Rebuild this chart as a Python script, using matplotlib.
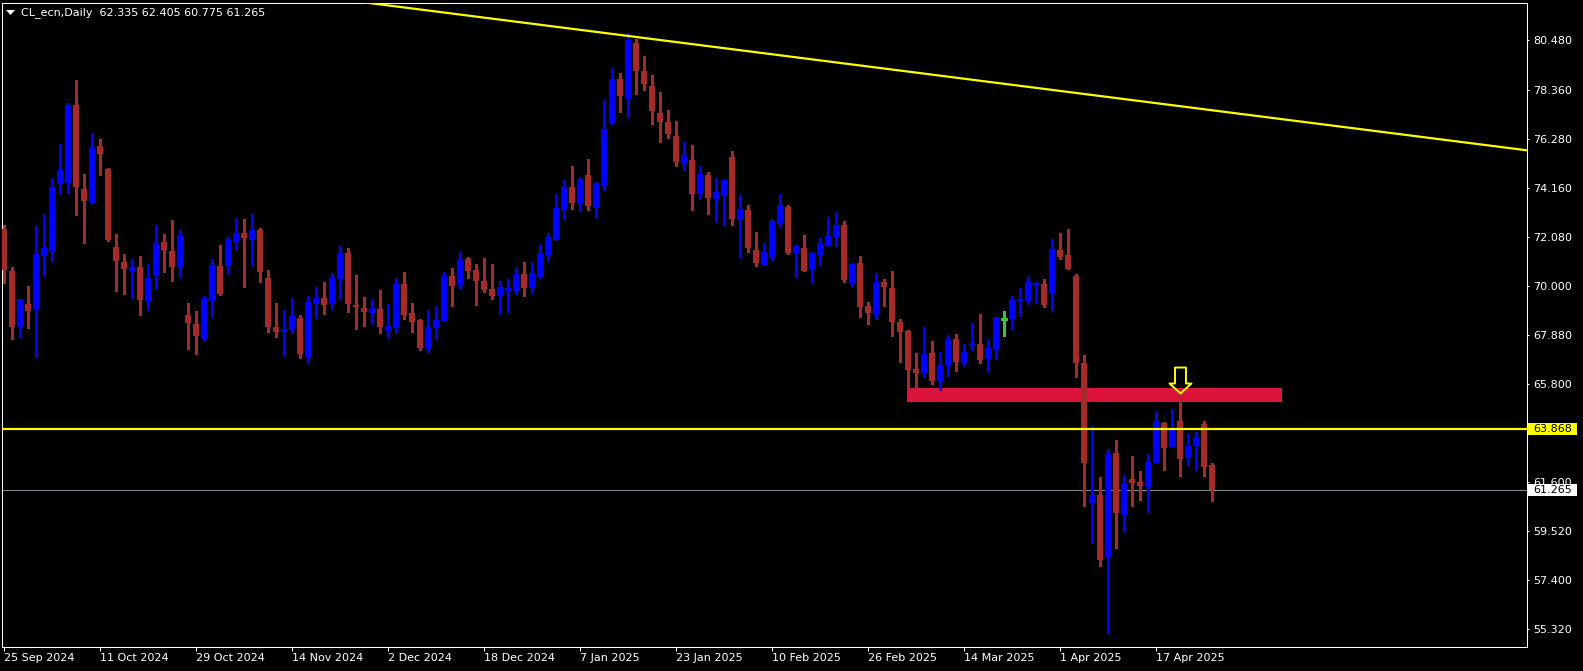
import numpy as np
import matplotlib.pyplot as plt
import matplotlib.transforms as mtransforms
from matplotlib.patches import Rectangle, Polygon
from matplotlib.path import Path

# CL_ecn daily candles, oldest first (bar 0 = 25 Sep 2024)
opens = [72.42, 70.62, 68.23, 69.21, 68.95, 71.26, 71.43, 74.34, 74.38, 77.72,
         74.13, 73.53, 75.97, 74.98, 71.65, 71.01, 70.62, 70.79, 69.30, 70.41,
         71.86, 71.48, 70.75, 68.74, 68.36, 67.71, 69.34, 70.83, 70.83, 71.86,
         72.25, 71.95, 72.37, 70.32, 68.23, 68.01, 68.10, 68.61, 66.90, 69.21,
         69.47, 69.21, 70.28, 71.39, 69.17, 69.04, 68.83, 69.00, 68.06, 68.18,
         70.07, 68.83, 68.53, 67.29, 68.18, 68.48, 70.41, 70.02, 71.13, 70.66,
         70.19, 69.85, 69.55, 69.77, 69.77, 70.49, 69.89, 70.36, 71.31, 71.95,
         73.23, 74.21, 73.49, 74.73, 73.31, 74.25, 76.95, 78.83, 77.97, 80.37,
         79.17, 78.53, 77.38, 76.99, 76.39, 75.20, 75.37, 73.91, 74.73, 73.70,
         73.83, 75.50, 72.80, 73.23, 71.52, 70.88, 71.18, 72.63, 73.36, 71.35,
         71.60, 70.66, 71.31, 71.73, 72.07, 72.59, 70.07, 70.96, 69.12, 68.74,
         70.15, 69.89, 68.44, 68.06, 66.43, 66.22, 67.12, 65.88, 66.56, 67.71,
         66.69, 67.41, 67.50, 66.86, 67.24, 68.57, 68.57, 69.34, 69.34, 70.02,
         70.07, 69.64, 71.52, 71.31, 70.41, 66.69, 60.70, 61.04, 58.35, 62.84,
         60.19, 61.73, 61.60, 61.39, 62.41, 64.12, 63.10, 64.21, 62.63, 63.14,
         64.08, 62.335]
highs = [72.59, 70.79, 69.42, 69.98, 72.55, 73.06, 74.60, 76.05, 77.80, 78.79,
         74.77, 76.52, 76.26, 75.02, 72.20, 71.35, 71.13, 71.26, 70.92, 72.59,
         72.20, 72.80, 72.37, 69.25, 68.91, 69.55, 71.13, 71.73, 72.07, 72.89,
         72.84, 73.06, 72.46, 70.66, 69.25, 68.95, 69.47, 68.74, 69.55, 69.94,
         70.15, 70.54, 71.69, 71.60, 70.45, 69.51, 69.42, 69.81, 69.21, 70.32,
         70.58, 69.25, 68.57, 68.95, 69.12, 70.58, 70.75, 71.43, 71.22, 70.92,
         71.18, 70.92, 70.19, 70.28, 70.75, 71.01, 71.01, 71.78, 72.25, 73.91,
         74.51, 75.11, 74.64, 75.41, 74.43, 77.93, 79.30, 79.09, 80.80, 80.54,
         79.81, 79.00, 78.27, 77.50, 77.03, 76.18, 76.01, 75.11, 74.85, 74.60,
         74.55, 75.75, 73.87, 73.44, 72.29, 71.82, 72.84, 73.91, 73.44, 71.73,
         72.16, 71.43, 72.03, 72.93, 73.14, 72.76, 70.96, 71.26, 69.30, 70.54,
         70.28, 70.62, 68.57, 68.10, 67.12, 68.23, 67.63, 67.16, 67.89, 67.93,
         67.50, 68.40, 68.78, 67.71, 68.65, 68.91, 69.55, 69.89, 70.41, 70.15,
         70.28, 71.99, 72.25, 72.42, 70.49, 67.03, 63.99, 61.81, 63.01, 63.40,
         61.90, 62.71, 62.07, 62.80, 64.64, 64.17, 64.72, 65.32, 63.65, 63.74,
         64.21, 62.405]
lows = [70.11, 67.71, 67.80, 68.18, 66.94, 70.41, 71.05, 73.91, 73.96, 73.02,
        71.82, 73.53, 74.73, 71.90, 69.77, 69.64, 69.47, 68.74, 68.95, 69.85,
        70.58, 70.19, 70.36, 67.29, 67.07, 67.63, 68.65, 69.60, 70.49, 71.52,
        69.94, 70.83, 70.15, 68.01, 67.80, 66.99, 67.97, 66.90, 66.69, 68.61,
        68.78, 69.00, 69.42, 68.87, 68.14, 68.27, 68.36, 67.97, 67.76, 67.97,
        68.57, 68.01, 67.24, 67.16, 67.71, 68.48, 69.12, 69.85, 70.32, 69.17,
        69.72, 69.42, 68.78, 68.87, 69.64, 69.55, 69.68, 70.32, 71.05, 71.95,
        72.84, 73.27, 73.19, 73.23, 72.89, 74.08, 76.91, 77.42, 77.21, 78.19,
        78.36, 76.91, 76.14, 76.31, 75.11, 74.94, 73.23, 73.70, 73.06, 72.72,
        72.59, 72.59, 71.18, 71.43, 70.83, 70.88, 71.09, 72.50, 71.35, 70.36,
        70.60, 70.11, 70.88, 71.69, 71.69, 70.15, 69.98, 68.65, 68.36, 68.57,
        69.12, 67.84, 66.73, 65.62, 65.53, 66.09, 65.79, 65.53, 66.13, 66.35,
        66.56, 67.24, 66.69, 66.30, 66.86, 67.84, 68.14, 68.70, 69.21, 69.30,
        69.08, 68.95, 71.13, 70.69, 66.09, 60.57, 58.99, 58.01, 55.14, 58.78,
        59.46, 60.57, 60.83, 60.32, 62.41, 62.11, 63.10, 61.86, 62.33, 62.11,
        61.86, 60.775]
closes = [70.66, 68.23, 69.42, 68.91, 71.35, 71.60, 74.21, 74.94, 77.72, 74.21,
          73.61, 75.88, 75.62, 71.95, 71.05, 70.71, 70.79, 69.38, 70.32, 71.82,
          71.52, 70.79, 72.16, 68.40, 67.84, 69.47, 70.88, 69.64, 71.99, 72.25,
          72.03, 72.37, 70.58, 68.23, 68.01, 68.14, 68.70, 67.07, 69.30, 69.47,
          69.17, 70.32, 71.39, 69.21, 69.08, 68.87, 69.04, 68.23, 68.27, 70.07,
          68.74, 68.44, 67.33, 68.23, 68.53, 70.41, 69.98, 71.09, 70.62, 70.19,
          69.81, 69.55, 69.94, 69.89, 70.49, 69.89, 70.54, 71.39, 72.07, 73.31,
          74.21, 73.53, 74.55, 73.40, 74.38, 76.69, 78.83, 78.10, 80.50, 79.17,
          78.62, 77.46, 76.99, 76.48, 75.28, 75.58, 73.91, 74.77, 73.74, 74.00,
          74.51, 72.84, 73.27, 71.60, 70.96, 71.48, 72.76, 73.44, 71.39, 71.69,
          70.62, 71.39, 71.82, 72.12, 72.59, 70.24, 70.92, 69.08, 68.83, 70.15,
          69.94, 68.44, 68.01, 66.39, 66.26, 67.07, 65.92, 66.60, 67.71, 66.73,
          67.16, 67.54, 66.82, 67.33, 68.65, 68.57, 69.38, 69.42, 70.15, 70.11,
          69.17, 71.56, 71.22, 70.71, 66.69, 62.41, 61.04, 58.27, 62.80, 60.27,
          61.56, 61.56, 61.43, 62.45, 64.21, 63.05, 63.82, 62.58, 63.14, 63.52,
          62.24, 61.265]

# one date label every 12 bars
date_labels = ['25 Sep 2024', '11 Oct 2024', '29 Oct 2024', '14 Nov 2024', '2 Dec 2024',
               '18 Dec 2024', '7 Jan 2025', '23 Jan 2025', '10 Feb 2025', '26 Feb 2025',
               '14 Mar 2025', '1 Apr 2025', '17 Apr 2025']
price_ticks = [80.48, 78.36, 76.28, 74.16, 72.08, 70.00, 67.88, 65.80, 63.72,
               61.60, 59.52, 57.40, 55.32]

# chart objects
level_price = 63.868                 # horizontal yellow line
trend_bars = [69.5, 189.9]           # yellow trend line anchors
trend_prices = [81.04, 75.80]
zone_bars = [112.9, 159.75]          # red resistance zone
zone_prices = [65.03, 65.62]
arrow_bar = 147
arrow_price = 65.41

W, H = 1583, 671
bull = '#0000FF'
bear = '#A52A2A'
doji = '#32CD32'

fig = plt.figure(figsize=(W / 100, H / 100), dpi=100, facecolor='black')
ax = fig.add_axes([2 / W, 24 / H, 1524.5 / W, 644.5 / H], facecolor='black')

x = np.arange(len(opens))
o, h, l, c = (np.array(v) for v in (opens, highs, lows, closes))

# candles
for mask, col in [(c > o, bull), (c < o, bear)]:
    ax.vlines(x[mask], l[mask], h[mask], color=col, lw=0.75, antialiased=False, zorder=3)
    ax.bar(x[mask], np.abs(c - o)[mask], bottom=np.minimum(o, c)[mask], width=0.68,
           color=col, linewidth=0, antialiased=False, zorder=3)
flat = c == o
ax.vlines(x[flat], l[flat], h[flat], color=doji, lw=0.75, antialiased=False, zorder=3)
ax.hlines(o[flat], x[flat] - 0.34, x[flat] + 0.34, color=doji, lw=0.75, antialiased=False, zorder=3)

# zone, lines, arrow
ax.add_patch(Rectangle((zone_bars[0], zone_prices[0]), zone_bars[1] - zone_bars[0],
                       zone_prices[1] - zone_prices[0], facecolor='#DC143C', lw=0, zorder=1))
slope = (trend_prices[1] - trend_prices[0]) / (trend_bars[1] - trend_bars[0])
tx = np.array([-10, 200])
ax.plot(tx, trend_prices[0] + slope * (tx - trend_bars[0]), color='#FFFF00', lw=1.6, zorder=4)
ax.axhline(level_price, color='#FFFF00', lw=1.6, zorder=4)
ax.axhline(closes[-1], color='#778899', lw=0.75, zorder=2)

arrow = Path([(0, 0), (11, 10), (5.5, 10), (5.5, 26), (-5.5, 26), (-5.5, 10), (-11, 10), (0, 0)],
             [Path.MOVETO] + [Path.LINETO] * 6 + [Path.CLOSEPOLY])
ax.plot([arrow_bar], [arrow_price], marker=arrow, ms=37.4, mfc='none', mec='#FFFF00',
        mew=1.4, zorder=6)

ax.set_xlim(-0.25, 190.3)
ax.set_ylim(54.547, 82.10)

# axes styling
for s in ax.spines.values():
    s.set_color('white')
    s.set_linewidth(0.75)
ax.set_xticks(np.arange(len(date_labels)) * 12)
ax.set_xticklabels(date_labels)
for lbl in ax.get_xticklabels():
    lbl.set_ha('left')
ax.yaxis.tick_right()
ax.set_yticks(price_ticks)
# the 63.720 label sits under the yellow level box, so leave it blank
ax.set_yticklabels(['' if v == 63.72 else f'{v:.3f}' for v in price_ticks])
ax.tick_params(axis='x', colors='white', direction='out', length=3, width=0.75,
               labelsize=8, pad=1.5)
ax.tick_params(axis='y', colors='white', direction='out', length=1.5, width=0.75,
               labelsize=8, pad=3.2)

# price labels on the right scale
trans = mtransforms.blended_transform_factory(fig.transFigure, ax.transData)
box_h = 12.7 / 23.39
for price, face in [(level_price, '#FFFF00'), (closes[-1], 'white')]:
    ax.add_patch(Rectangle((1527.7 / W, price - box_h / 2), 49 / W, box_h, transform=trans,
                           facecolor=face, lw=0, clip_on=False, zorder=6))
    ax.text(1533 / W, price, f'{price:.3f}', transform=trans, color='black', fontsize=8,
            va='center', ha='left', clip_on=False, zorder=7)

# header
fig.patches.append(Polygon([(6 / W, 1 - 10 / H), (15 / W, 1 - 10 / H), (10.5 / W, 1 - 15 / H)],
                           closed=True, transform=fig.transFigure, facecolor='white', lw=0))
fig.text(21 / W, 1 - 12.7 / H,
         f'CL_ecn,Daily  {opens[-1]:.3f} {highs[-1]:.3f} {lows[-1]:.3f} {closes[-1]:.3f}',
         color='white', fontsize=8, va='center', ha='left')

fig.savefig('out.png', dpi=100, facecolor='black')
